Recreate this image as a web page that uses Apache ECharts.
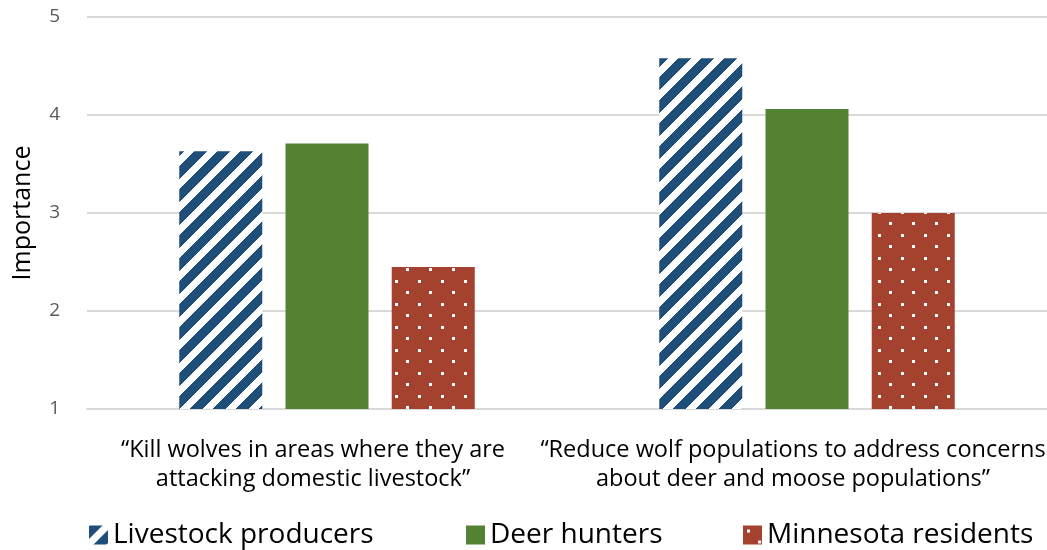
<!DOCTYPE html>
<html>
<head>
<meta charset="utf-8">
<script src="https://cdn.jsdelivr.net/npm/echarts@6/dist/echarts.min.js"></script>
<style>html,body{margin:0;padding:0;background:#fff}#c{width:1047px;height:550px}</style>
</head>
<body>
<div id="c"></div>
<script>
const categories = [
  "\u201CKill wolves in areas where they are\nattacking domestic livestock\u201D",
  "\u201CReduce wolf populations to address concerns\nabout deer and moose populations\u201D"
];
const seriesNames = ["Livestock producers", "Deer hunters", "Minnesota residents"];
const livestockProducers = [3.63, 4.58];
const deerHunters = [3.71, 4.06];
const minnesotaResidents = [2.45, 3.00];
const yTicks = [1, 2, 3, 4, 5];

const NAVY = '#1f4e79', GREEN = '#548235', RED = '#a5422f';

function stripeTile() {
  const s = 23, c = document.createElement('canvas');
  c.width = s; c.height = s;
  const ctx = c.getContext('2d');
  const img = ctx.createImageData(s, s);
  for (let y = 0; y < s; y++) for (let x = 0; x < s; x++) {
    const dark = ((x + y) % s) < 13;
    const i = (y * s + x) * 4;
    img.data[i] = dark ? 0x1f : 255;
    img.data[i+1] = dark ? 0x4e : 255;
    img.data[i+2] = dark ? 0x79 : 255;
    img.data[i+3] = 255;
  }
  ctx.putImageData(img, 0, 0);
  return c;
}
function dotTile() {
  const w = 23, h = 23, c = document.createElement('canvas');
  c.width = w; c.height = h;
  const ctx = c.getContext('2d');
  ctx.fillStyle = RED; ctx.fillRect(0, 0, w, h);
  ctx.fillStyle = '#ffffff';
  ctx.fillRect(4, 4, 3, 3);
  ctx.fillRect(15, 15, 3, 3);
  return c;
}
const stripeFill = { image: stripeTile(), repeat: 'repeat' };
const dotFill = { image: dotTile(), repeat: 'repeat' };

const chart = echarts.init(document.getElementById('c'), null, { renderer: 'canvas' });
const FONT = 'Open Sans';
function legendAt(name, left) {
  return {
    data: [name], left: left, top: 516, itemWidth: 19, itemHeight: 19, itemGap: 10,
    icon: 'rect',
    textStyle: { fontFamily: FONT, fontSize: 28, color: '#000' }
  };
}
chart.setOption({
  animation: false,
  legend: [legendAt(seriesNames[0], 84), legendAt(seriesNames[1], 461), legendAt(seriesNames[2], 738)],
  grid: { left: 87, right: 0, top: 17, bottom: 141, containLabel: false, outerBoundsMode: 'none' },
  xAxis: {
    type: 'category', data: categories,
    axisLine: { show: true, lineStyle: { color: '#d9d9d9', width: 2 } },
    axisTick: { show: false },
    axisLabel: { fontFamily: FONT, fontSize: 23.5, color: '#000', lineHeight: 29, margin: 27, interval: 0, hideOverlap: false, padding: [0, 28, 0, 0] }
  },
  yAxis: {
    type: 'value', min: yTicks[0], max: yTicks[yTicks.length - 1], interval: 1,
    name: 'Importance', nameLocation: 'middle', nameGap: 52, nameRotate: 90,
    nameTextStyle: { fontFamily: FONT, fontSize: 25, color: '#000' },
    axisLine: { show: false }, axisTick: { show: false },
    axisLabel: { fontFamily: FONT, fontSize: 19, color: '#595959', margin: 27 },
    splitLine: { lineStyle: { color: '#d9d9d9', width: 2 } }
  },
  series: [
    { name: seriesNames[0], type: 'bar', data: livestockProducers, barWidth: 83, barGap: '28%', itemStyle: { color: stripeFill } },
    { name: seriesNames[1], type: 'bar', data: deerHunters, barWidth: 83, barGap: '28%', itemStyle: { color: GREEN } },
    { name: seriesNames[2], type: 'bar', data: minnesotaResidents, barWidth: 83, barGap: '28%', itemStyle: { color: dotFill } }
  ]
});
</script>
</body>
</html>
